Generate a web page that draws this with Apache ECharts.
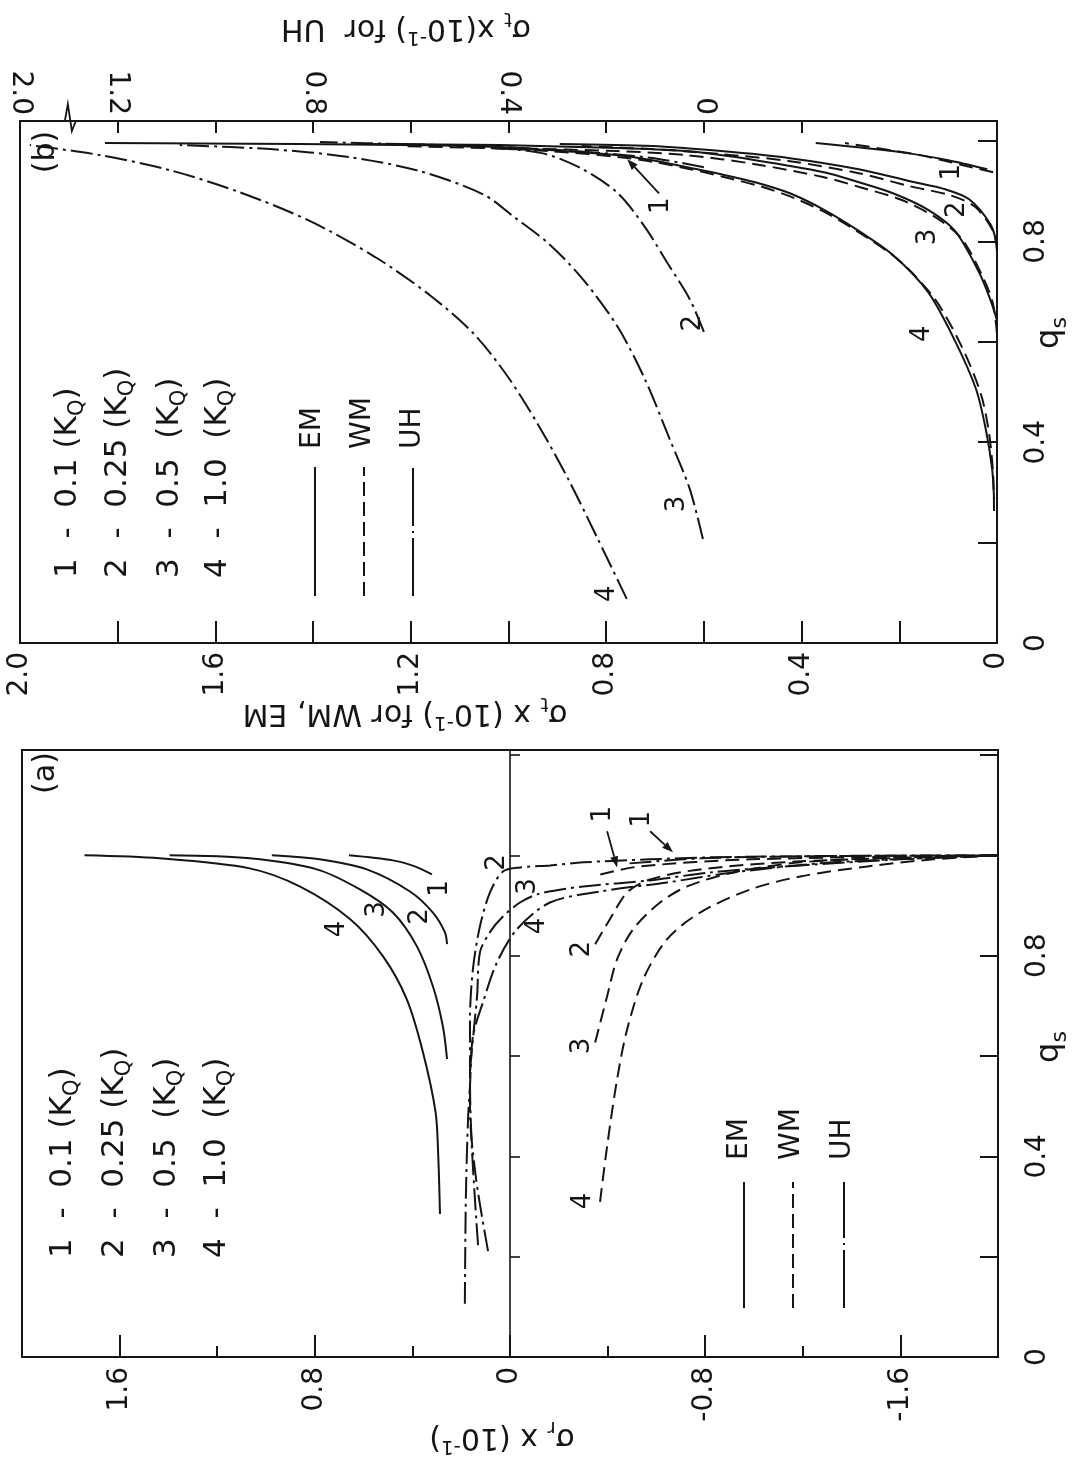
<!DOCTYPE html>
<html>
<head>
<meta charset="utf-8">
<script src="https://cdn.jsdelivr.net/npm/echarts@6/dist/echarts.min.js"></script>
<style>
  html, body { margin: 0; padding: 0; background: #ffffff; }
  #chart { width: 1077px; height: 1459px; }
</style>
</head>
<body>
<div id="chart"></div>
<script>
// ---------------------------------------------------------------
// Panel (a): radial stress sigma_r (x 10^-1) against q_s.
// Every point is [sigma_r, q_s].
// ---------------------------------------------------------------
const emA1 = [[0.32,0.962],[0.39,0.978],[0.48,0.99],[0.66,1.0]];
const emA2 = [[0.258,0.823],[0.267,0.847],[0.316,0.886],[0.41,0.928],[0.587,0.972],[0.78,0.992],[0.976,1.0]];
const emA3 = [[0.258,0.594],[0.275,0.659],[0.316,0.739],[0.382,0.819],[0.48,0.886],[0.615,0.932],[0.792,0.972],[1.067,0.994],[1.395,1.0]];
const emA4 = [[0.287,0.285],[0.294,0.4],[0.305,0.488],[0.357,0.608],[0.423,0.713],[0.521,0.799],[0.656,0.873],[0.862,0.938],[1.067,0.974],[1.436,0.994],[1.744,1.0]];

const wmA1 = [[-0.37,0.962],[-0.533,0.978],[-0.985,0.992],[-2.0,1.0]];
const wmA2 = [[-0.349,0.823],[-0.41,0.873],[-0.48,0.926],[-0.574,0.952],[-0.779,0.972],[-1.19,0.988],[-2.0,1.0]];
const wmA3 = [[-0.349,0.627],[-0.398,0.719],[-0.439,0.793],[-0.505,0.853],[-0.615,0.906],[-0.726,0.938],[-0.915,0.966],[-1.19,0.986],[-1.6,0.996],[-2.0,1.0]];
const wmA4 = [[-0.369,0.309],[-0.398,0.42],[-0.439,0.554],[-0.48,0.653],[-0.546,0.753],[-0.644,0.833],[-0.779,0.886],[-0.985,0.932],[-1.19,0.958],[-1.465,0.978],[-1.735,0.992],[-2.0,1.0]];

const uhA1 = [[-0.49,0.984],[-0.78,0.994],[-1.19,0.998],[-2.0,1.0]];
const uhA2 = [[0.09,0.211],[0.139,0.355],[0.164,0.494],[0.164,0.673],[0.152,0.773],[0.123,0.859],[0.082,0.926],[0.029,0.968],[-0.041,0.976],[-0.164,0.98],[-0.3,0.986],[-0.574,0.992],[-0.82,0.996],[-1.395,0.999],[-2.0,1.0]];
const uhA3 = [[0.131,0.223],[0.156,0.414],[0.164,0.554],[0.148,0.653],[0.135,0.719],[0.123,0.807],[0.082,0.847],[0.029,0.878],[-0.041,0.906],[-0.123,0.924],[-0.3,0.938],[-0.574,0.95],[-0.82,0.966],[-1.19,0.98],[-1.6,0.992],[-2.0,1.0]];
const uhA4 = [[0.185,0.106],[0.181,0.315],[0.172,0.474],[0.164,0.54],[0.152,0.639],[0.111,0.707],[0.053,0.787],[-0.029,0.853],[-0.164,0.906],[-0.369,0.928],[-0.644,0.946],[-0.915,0.966],[-1.325,0.986],[-2.0,1.0]];

// ---------------------------------------------------------------
// Panel (b): tangential stress sigma_t (x 10^-1) against q_s.
// EM / WM use the lower stress scale, UH the upper one.
// Every point is [sigma_t, q_s].
// ---------------------------------------------------------------
const emB1 = [[0.02,0.944],[0.10,0.962],[0.199,0.978],[0.371,0.996]];
const emB2 = [[0.0,0.795],[0.014,0.835],[0.057,0.884],[0.106,0.904],[0.178,0.92],[0.283,0.944],[0.424,0.966],[0.565,0.98],[0.706,0.99],[0.895,0.994]];
const emB3 = [[0.0,0.643],[0.014,0.685],[0.037,0.739],[0.086,0.821],[0.141,0.863],[0.213,0.896],[0.283,0.918],[0.354,0.938],[0.495,0.962],[0.635,0.98],[0.776,0.986],[1.017,0.992],[1.3,0.994]];
const emB4 = [[0.006,0.287],[0.01,0.347],[0.023,0.426],[0.043,0.506],[0.086,0.602],[0.141,0.699],[0.213,0.773],[0.283,0.821],[0.354,0.863],[0.424,0.896],[0.495,0.918],[0.565,0.934],[0.635,0.948],[0.706,0.962],[0.776,0.972],[0.917,0.982],[1.058,0.99],[1.222,0.992],[1.427,0.994],[1.632,0.995],[1.826,0.996]];

const wmB1 = [[0.008,0.938],[0.07,0.952],[0.158,0.972],[0.311,0.996]];
const wmB2 = [[0.0,0.781],[0.008,0.821],[0.045,0.869],[0.096,0.892],[0.178,0.91],[0.283,0.936],[0.424,0.96],[0.565,0.974],[0.706,0.984],[0.85,0.99]];
const wmB3 = [[0.0,0.616],[0.008,0.675],[0.027,0.725],[0.072,0.805],[0.127,0.849],[0.199,0.884],[0.28,0.908],[0.354,0.928],[0.495,0.954],[0.635,0.972],[0.776,0.98],[1.017,0.986]];
const wmB4 = [[0.006,0.263],[0.008,0.337],[0.016,0.416],[0.033,0.496],[0.072,0.59],[0.127,0.685],[0.199,0.761],[0.268,0.809],[0.342,0.853],[0.414,0.886],[0.485,0.91],[0.557,0.928],[0.628,0.944],[0.7,0.958],[0.772,0.968],[0.915,0.98],[1.05,0.986],[1.22,0.99]];

const uhB1 = [[0.0,0.948],[0.09,0.964],[0.16,0.972],[0.295,0.982],[0.459,0.99],[0.62,0.994]];
const uhB2 = [[0.0,0.62],[0.029,0.685],[0.072,0.753],[0.121,0.829],[0.176,0.896],[0.248,0.944],[0.332,0.976],[0.459,0.988],[0.622,0.994],[0.786,0.998]];
const uhB3 = [[0.002,0.207],[0.029,0.307],[0.07,0.406],[0.121,0.526],[0.176,0.629],[0.248,0.725],[0.317,0.795],[0.389,0.849],[0.452,0.894],[0.581,0.94],[0.725,0.968],[0.888,0.984],[1.073,0.992]];
const uhB4 = [[0.158,0.088],[0.217,0.207],[0.278,0.327],[0.340,0.436],[0.401,0.530],[0.471,0.616],[0.561,0.693],[0.673,0.769],[0.807,0.841],[0.950,0.898],[1.093,0.942],[1.236,0.972],[1.380,0.992]];

// Tick values
const majorTicksA = [-1.6, -0.8, 0, 0.8, 1.6];
const uhTicks = [-0.2, 0, 0.2, 0.4, 0.6, 0.8, 1.0, 1.2];

// Legend wording
const kqLines = ['1  -  0.1 (K{s|Q})', '2  -  0.25 (K{s|Q})', '3  -  0.5  (K{s|Q})', '4  -  1.0  (K{s|Q})'];
const modelNames = ['EM', 'WM', 'UH'];

// Curve numbers, in each panel's own units: [text, sigma, q_s]
const numbersA = [['1',0.284,0.934],['2',0.369,0.878],['3',0.546,0.892],['4',0.709,0.853],
                  ['2',0.053,0.986],['3',-0.074,0.938],['4',-0.111,0.859],
                  ['2',-0.295,0.813],['3',-0.295,0.620],['4',-0.299,0.311],
                  ['1',-0.381,1.082],['1',-0.541,1.072]];
const arrowsA = [[[-0.398,1.048],[-0.439,0.976]], [[-0.574,1.048],[-0.668,1.006]]];
const numbersB = [['1',0.092,0.938],['2',0.082,0.863],['3',0.141,0.809],['4',0.154,0.616],
                  ['1',0.688,0.871],['2',0.622,0.637],['3',0.655,0.277],['4',0.798,0.098]];
const arrowsB = [[[0.692,0.896],[0.757,0.964]]];

// ---------------------------------------------------------------
const INK = '#151515';
const FONT = 'DejaVu Sans';
const dashes = { EM: 'solid', WM: [14, 7], UH: [22, 5, 3, 5] };

const fmt1 = v => { const k = Math.round(v * 10); return k === 0 ? '0' : (k / 10).toFixed(1); };
const axisLineStyle = { color: INK, width: 2 };
const tickStyle = { color: INK, width: 2 };
const labelBase = { rotate: 90, fontSize: 28, fontFamily: FONT, color: INK };

function curve(name, model, data, xi, yi) {
  return {
    name, type: 'line', data, xAxisIndex: xi, yAxisIndex: yi,
    symbol: 'none', smooth: 0.3, silent: true, clip: true,
    lineStyle: { color: INK, width: 2, type: dashes[model] }
  };
}

const option = {
  backgroundColor: '#ffffff',
  animation: false,
  grid: [
    { left: 22, right: 79, top: 750, bottom: 102, show: true, borderColor: INK, borderWidth: 2 },
    { left: 20, right: 80, top: 121, bottom: 816, show: true, borderColor: INK, borderWidth: 2 }
  ],
  xAxis: [
    { // (a) sigma_r, minor ticks and labels
      gridIndex: 0, type: 'value', min: -2, max: 2, interval: 0.4, inverse: true, position: 'bottom',
      axisLine: { onZero: false, lineStyle: axisLineStyle },
      axisTick: { inside: true, length: 11, lineStyle: tickStyle },
      splitLine: { show: false },
      axisLabel: Object.assign({}, labelBase, { margin: 10,
        formatter: v => { const k = Math.round(v * 10); return (k % 8 === 0 && Math.abs(k) < 20) ? fmt1(v) : ''; } })
    },
    { // (a) sigma_r, long ticks at the labelled values
      gridIndex: 0, type: 'value', min: -2, max: 2, interval: 0.4, inverse: true, position: 'bottom',
      axisLine: { show: false, onZero: false },
      axisTick: { inside: true, length: 22, customValues: majorTicksA, lineStyle: tickStyle },
      axisLabel: { show: false }, splitLine: { show: false }
    },
    { // (b) sigma_t for WM, EM
      gridIndex: 1, type: 'value', min: 0, max: 2, interval: 0.2, inverse: true, position: 'bottom',
      axisLine: { onZero: false, lineStyle: axisLineStyle },
      axisTick: { inside: true, length: 22, lineStyle: tickStyle },
      splitLine: { show: false },
      axisLabel: Object.assign({}, labelBase, { margin: 9,
        formatter: v => { const k = Math.round(v * 10); return k % 4 === 0 ? fmt1(v) : ''; } })
    },
    { // (b) sigma_t for UH (upper scale, broken before 2.0)
      gridIndex: 1, type: 'value', min: -0.6, max: 1.4, interval: 0.2, inverse: true, position: 'top',
      axisLine: { onZero: false, lineStyle: axisLineStyle },
      axisTick: { inside: true, length: 12, customValues: uhTicks, lineStyle: tickStyle },
      splitLine: { show: false },
      axisLabel: Object.assign({}, labelBase, { margin: 6,
        formatter: v => { const k = Math.round(v * 10);
          if (k === 14) return '2.0';
          return (k >= 0 && k <= 12 && k % 4 === 0) ? fmt1(v) : ''; } })
    }
  ],
  yAxis: [
    { // (a) q_s
      gridIndex: 0, type: 'value', min: 0, max: 1.21, interval: 0.2, position: 'right',
      axisLine: { onZero: false, lineStyle: axisLineStyle },
      axisTick: { inside: true, length: 18, lineStyle: tickStyle },
      splitLine: { show: false },
      axisLabel: Object.assign({}, labelBase, { margin: 26,
        formatter: v => { const k = Math.round(v * 10); return (k % 4 === 0 && k <= 8) ? fmt1(v) : ''; } })
    },
    { // (a) the sigma_r = 0 line with its ticks
      gridIndex: 0, type: 'value', min: 0, max: 1.21, interval: 0.2, position: 'left',
      axisLine: { onZero: true, onZeroAxisIndex: 0, lineStyle: { color: INK, width: 1.6 } },
      axisTick: { inside: true, length: 10, lineStyle: { color: INK, width: 1.6 } },
      axisLabel: { show: false }, splitLine: { show: false }
    },
    { // (b) q_s
      gridIndex: 1, type: 'value', min: 0, max: 1.04, interval: 0.2, position: 'right',
      axisLine: { onZero: false, lineStyle: axisLineStyle },
      axisTick: { inside: true, length: 19, lineStyle: tickStyle },
      splitLine: { show: false },
      axisLabel: Object.assign({}, labelBase, { margin: 26,
        formatter: v => { const k = Math.round(v * 10); return (k % 4 === 0 && k <= 8) ? fmt1(v) : ''; } })
    }
  ],
  series: [
    curve('EM 1 (a)', 'EM', emA1, 0, 0), curve('EM 2 (a)', 'EM', emA2, 0, 0),
    curve('EM 3 (a)', 'EM', emA3, 0, 0), curve('EM 4 (a)', 'EM', emA4, 0, 0),
    curve('WM 1 (a)', 'WM', wmA1, 0, 0), curve('WM 2 (a)', 'WM', wmA2, 0, 0),
    curve('WM 3 (a)', 'WM', wmA3, 0, 0), curve('WM 4 (a)', 'WM', wmA4, 0, 0),
    curve('UH 1 (a)', 'UH', uhA1, 0, 0), curve('UH 2 (a)', 'UH', uhA2, 0, 0),
    curve('UH 3 (a)', 'UH', uhA3, 0, 0), curve('UH 4 (a)', 'UH', uhA4, 0, 0),
    curve('EM 1 (b)', 'EM', emB1, 2, 2), curve('EM 2 (b)', 'EM', emB2, 2, 2),
    curve('EM 3 (b)', 'EM', emB3, 2, 2), curve('EM 4 (b)', 'EM', emB4, 2, 2),
    curve('WM 1 (b)', 'WM', wmB1, 2, 2), curve('WM 2 (b)', 'WM', wmB2, 2, 2),
    curve('WM 3 (b)', 'WM', wmB3, 2, 2), curve('WM 4 (b)', 'WM', wmB4, 2, 2),
    curve('UH 1 (b)', 'UH', uhB1, 3, 2), curve('UH 2 (b)', 'UH', uhB2, 3, 2),
    curve('UH 3 (b)', 'UH', uhB3, 3, 2), curve('UH 4 (b)', 'UH', uhB4, 3, 2)
  ]
};

const chart = echarts.init(document.getElementById('chart'), null, { renderer: 'canvas' });
chart.setOption(option);

// ---------------------------------------------------------------
// Annotations: titles, legends, curve numbers, arrows, scale break
// ---------------------------------------------------------------
const pxA = (s, q) => chart.convertToPixel({ xAxisIndex: 0, yAxisIndex: 0 }, [s, q]);
const pxB = (s, q) => chart.convertToPixel({ xAxisIndex: 2, yAxisIndex: 2 }, [s, q]);
const UP = Math.PI / 2;      // text reading upwards
const FLIP = Math.PI;        // upside-down text

function richSet(size) {
  const small = Math.round(size * 0.68);
  return {
    s: { fontSize: small, fontFamily: FONT, fill: INK, verticalAlign: 'bottom', lineHeight: small },
    p: { fontSize: small, fontFamily: FONT, fill: INK, verticalAlign: 'top', lineHeight: small }
  };
}
function label(x, y, text, size, rotation, align) {
  return {
    type: 'text', x, y, rotation, silent: true, z: 20,
    style: {
      text, fontSize: size, fontFamily: FONT, fill: INK,
      align: align || 'center', verticalAlign: 'middle',
      lineHeight: Math.round(size * 1.3), rich: richSet(size)
    }
  };
}
function vLine(x, y1, y2, dash) {
  return {
    type: 'line', silent: true, z: 20,
    shape: { x1: x, y1, x2: x, y2 },
    style: { stroke: INK, lineWidth: 2, lineDash: dash === 'solid' ? null : dash }
  };
}
function arrow(p0, p1) {
  const dx = p1[0] - p0[0], dy = p1[1] - p0[1];
  const L = Math.hypot(dx, dy), ux = dx / L, uy = dy / L;
  const hl = 11, hw = 4;
  const bx = p1[0] - ux * hl, by = p1[1] - uy * hl;
  return [
    { type: 'line', silent: true, z: 20, shape: { x1: p0[0], y1: p0[1], x2: bx, y2: by }, style: { stroke: INK, lineWidth: 1.8 } },
    { type: 'polygon', silent: true, z: 20, shape: { points: [[p1[0], p1[1]], [bx - uy * hw, by + ux * hw], [bx + uy * hw, by - ux * hw]] }, style: { fill: INK } }
  ];
}

const g = [];

// axis titles
g.push(label(502, 1437, 'σ{s|r} x (10{p|-1})', 30, FLIP));
g.push(label(405, 713, 'σ{s|t} x (10{p|-1}) for WM, EM', 30, FLIP));
g.push(label(406, 28, 'σ{s|t} x(10{p|-1}) for  UH', 30, FLIP));
g.push(label(1050, 1047, 'q{s|s}', 32, UP));
g.push(label(1050, 333, 'q{s|s}', 32, UP));

// panel tags
g.push(label(46, 773, '(a)', 30, UP));
g.push(label(46, 152, '(b)', 30, UP));

// K_Q legends
const kqColA = [63, 115, 167, 217], kqColB = [68, 118, 170, 218];
kqLines.forEach((t, i) => {
  g.push(label(kqColA[i], 1258, t, 31, UP, 'left'));
  g.push(label(kqColB[i], 578, t, 31, UP, 'left'));
});

// model keys
const keyTextA = [740, 792, 843], keyLineA = [744, 793, 844];
const keyTextB = [313, 363, 413], keyLineB = [315, 364, 413];
const keyDash = { EM: 'solid', WM: [14, 6], UH: [58, 5, 2, 5] };
modelNames.forEach((m, i) => {
  g.push(label(keyTextA[i], 1160, m, 28, UP, 'left'));
  g.push(vLine(keyLineA[i], 1308, 1182, keyDash[m]));
  g.push(label(keyTextB[i], 449, m, 28, UP, 'left'));
  g.push(vLine(keyLineB[i], 596, 467, keyDash[m]));
});

// curve numbers and pointers
numbersA.forEach(([t, s, q]) => { const p = pxA(s, q); g.push(label(p[0], p[1], t, 26, UP)); });
numbersB.forEach(([t, s, q]) => { const p = pxB(s, q); g.push(label(p[0], p[1], t, 26, UP)); });
arrowsA.forEach(([a, b]) => g.push(...arrow(pxA(a[0], a[1]), pxA(b[0], b[1]))));
arrowsB.forEach(([a, b]) => g.push(...arrow(pxB(a[0], a[1]), pxB(b[0], b[1]))));

// break mark on the upper UH scale
const bx = chart.convertToPixel({ xAxisIndex: 3 }, 1.3);
const by = pxB(0, 1.04)[1];
g.push({ type: 'polyline', silent: true, z: 21,
  shape: { points: [[bx - 4, by], [bx - 1, by - 17], [bx + 3, by + 10], [bx + 7, by]] },
  style: { stroke: INK, lineWidth: 1.8, fill: null } });

chart.setOption({ graphic: { elements: g } });
</script>
</body>
</html>
